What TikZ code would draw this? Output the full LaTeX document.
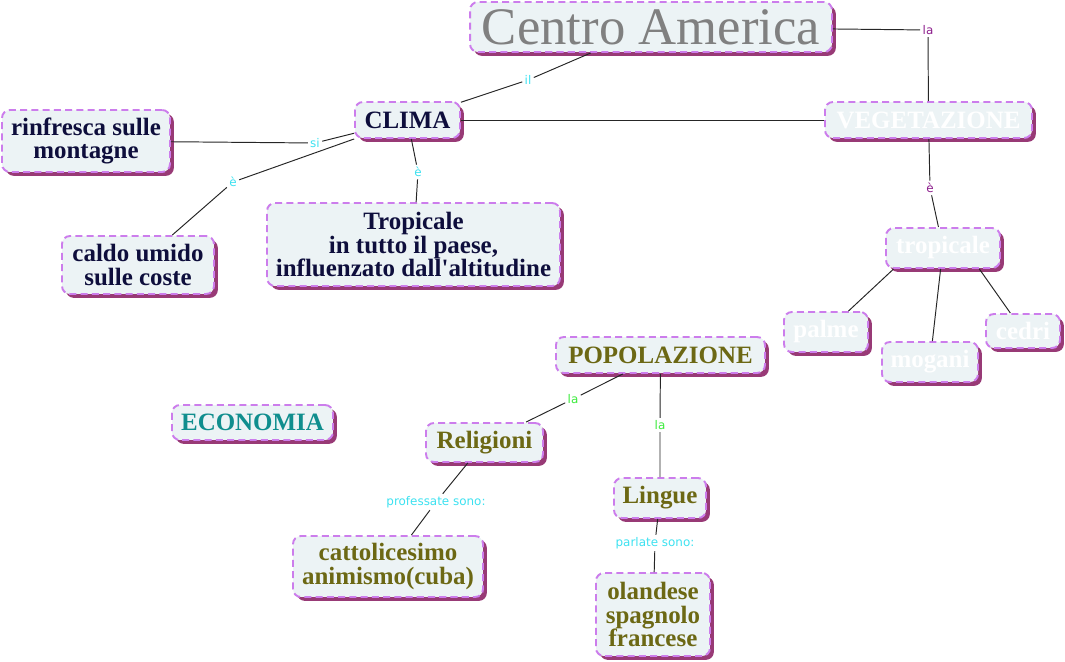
\documentclass[tikz,border=0pt]{standalone}
\usepackage{fontspec}
\setmainfont{Liberation Serif}[Ligatures=TeXOff]
\newfontfamily\linkfont{DejaVu Sans}
\usetikzlibrary{shadows}

\definecolor{cfill}{RGB}{236,243,245}
\definecolor{cborder}{RGB}{204,125,236}
\definecolor{cshadow}{RGB}{152,58,118}
\definecolor{navy}{RGB}{14,14,60}
\definecolor{olive}{RGB}{108,104,20}
\definecolor{teal}{RGB}{16,142,142}
\definecolor{titlegray}{RGB}{128,128,128}
\definecolor{lcyan}{RGB}{60,225,240}
\definecolor{lpurple}{RGB}{140,30,140}
\definecolor{lgreen}{RGB}{60,235,60}

\tikzset{
  concept/.style={draw=cborder, dash pattern=on 4pt off 2.4pt, line width=1.1pt,
    fill=cfill, rounded corners=4.5pt, align=center, inner sep=0pt,
    font=\bfseries\fontsize{14.2}{13.6}\selectfont,
    drop shadow={shadow xshift=2.2pt, shadow yshift=-2.2pt, fill=cshadow, opacity=1}},
  linkword/.style={font=\linkfont\fontsize{6.8}{7}\selectfont, inner sep=1.2pt},
  link/.style={draw=black!85, line width=0.55pt}
}

\begin{document}
\begin{tikzpicture}[x=0.02cm, y=-0.02cm]
  \useasboundingbox (0,0) rectangle (1065,662);

  % concetti
  \node[concept, minimum width=7.24cm, minimum height=1cm, text=titlegray,
        font=\mdseries\fontsize{30}{30}\selectfont] (centro) at (651,27) {Centro America};
  \node[concept, minimum width=4.14cm, minimum height=0.72cm, text=white] (veg) at (928.5,120) {VEGETAZIONE};
  \node[concept, minimum width=2.1cm, minimum height=0.72cm, text=navy] (clima) at (407.5,120) {CLIMA};
  \node[concept, minimum width=3.36cm, minimum height=1.24cm, text=navy] (rinfresca) at (86,141) {rinfresca sulle\\montagne};
  \node[concept, minimum width=3.04cm, minimum height=1.16cm, text=navy] (caldo) at (138,265) {caldo umido\\sulle coste};
  \node[concept, minimum width=5.86cm, minimum height=1.66cm, text=navy] (tropclima) at (413.5,244.5) {Tropicale\\in tutto il paese,\\influenzato dall'altitudine};
  \node[concept, minimum width=2.28cm, minimum height=0.8cm, text=white] (tropveg) at (943,248) {tropicale};
  \node[concept, minimum width=1.68cm, minimum height=0.8cm, text=white] (palme) at (826,332) {palme};
  \node[concept, minimum width=1.92cm, minimum height=0.8cm, text=white] (mogani) at (930,362) {mogani};
  \node[concept, minimum width=1.48cm, minimum height=0.68cm, text=white] (cedri) at (1023,331) {cedri};
  \node[concept, minimum width=4.18cm, minimum height=0.72cm, text=olive] (pop) at (660.5,355) {POPOLAZIONE};
  \node[concept, minimum width=3.22cm, minimum height=0.7cm, text=teal] (eco) at (252.5,422.5) {ECONOMIA};
  \node[concept, minimum width=2.34cm, minimum height=0.78cm, text=olive] (relig) at (484.5,442.5) {Religioni};
  \node[concept, minimum width=1.84cm, minimum height=0.8cm, text=olive] (lingue) at (660,498) {Lingue};
  \node[concept, minimum width=3.8cm, minimum height=1.22cm, text=olive] (catt) at (388,566.5) {cattolicesimo\\animismo(cuba)};
  \node[concept, minimum width=2.28cm, minimum height=1.66cm, text=olive] (oland) at (653,614.5) {olandese\\spagnolo\\francese};

  % parole di legame
  \node[linkword, text=lcyan] (il) at (528,80) {il};
  \node[linkword, text=lpurple] (la1) at (928,30) {la};
  \node[linkword, text=lcyan] (si) at (315,143) {si};
  \node[linkword, text=lcyan] (e1) at (233,182) {è};
  \node[linkword, text=lcyan] (e2) at (418,172) {è};
  \node[linkword, text=lpurple] (e3) at (930,188) {è};
  \node[linkword, text=lgreen] (la2) at (573,399) {la};
  \node[linkword, text=lgreen] (la3) at (660,425) {la};
  \node[linkword, text=lcyan] (prof) at (436,502) {professate sono:};
  \node[linkword, text=lcyan] (parl) at (655,543) {parlate sono:};

  % collegamenti
  \draw[link] (centro) -- (il) -- (clima);
  \draw[link] (centro) -- (la1) -- (veg);
  \draw[link] (clima) -- (veg);
  \draw[link] (clima) -- (si) -- (rinfresca);
  \draw[link] (clima) -- (e1) -- (caldo);
  \draw[link] (clima) -- (e2) -- (tropclima);
  \draw[link] (veg) -- (e3) -- (tropveg);
  \draw[link] (tropveg.203) -- (palme);
  \draw[link] (tropveg) -- (mogani);
  \draw[link] (tropveg.-30) -- (cedri);
  \draw[link] (pop) -- (la2) -- (relig);
  \draw[link] (pop) -- (la3) -- (lingue);
  \draw[link] (relig) -- (prof) -- (catt);
  \draw[link] (lingue) -- (parl) -- (oland);
\end{tikzpicture}
\end{document}
